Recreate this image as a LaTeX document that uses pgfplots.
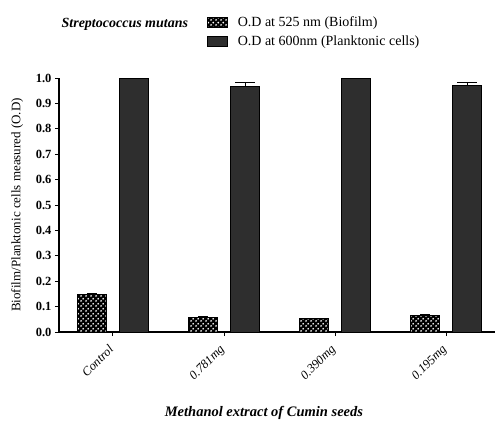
\documentclass[border=0pt]{standalone}
\usepackage{fontspec}
\setmainfont{Liberation Serif}
\usepackage{pgfplots}
\pgfplotsset{compat=1.18}
\usetikzlibrary{patterns}
\pgfdeclarepatternformonly{whitedots}{\pgfqpoint{0pt}{0pt}}{\pgfqpoint{5pt}{5pt}}{\pgfqpoint{5pt}{5pt}}{%
 \pgfpathcircle{\pgfqpoint{1.25pt}{1.25pt}}{1.1pt}%
 \pgfpathcircle{\pgfqpoint{3.75pt}{3.75pt}}{1.1pt}%
 \pgfusepath{fill}}
\definecolor{darkbar}{HTML}{2E2E2E}
\pgfplotsset{boxlegend/.style={legend image code/.code={\draw[##1] (0pt,-5pt) rectangle (20pt,5pt);}}}
\begin{document}
\begin{tikzpicture}
\begin{axis}[
 scale only axis, width=436pt, height=254pt,
 xmin=-0.486, xmax=3.44, ymin=0, ymax=1,
 axis x line=bottom, axis y line=left,
 axis line style={line width=1.1pt, -},
 xtick={0,1,2,3}, xticklabels={Control,0.781mg,0.390mg,0.195mg},
 x tick label style={rotate=45, anchor=north east, xshift=-5.7pt, yshift=1.4pt, font=\fontsize{12.5}{14}\selectfont\itshape},
 ytick={0,0.1,0.2,0.3,0.4,0.5,0.6,0.7,0.8,0.9,1.0},
 /pgf/number format/assume math mode=true,
 y tick label style={/pgf/number format/fixed, /pgf/number format/fixed zerofill, /pgf/number format/precision=1, font=\bfseries\fontsize{12.5}{14}\selectfont},
 tick align=outside, major tick length=4pt,
 tick style={line width=1pt, black},
 ylabel={Biofilm/Planktonic cells measured (O.D)},
 ylabel style={at={(axis description cs:-0.096,0.5)}, anchor=center, font=\fontsize{13}{15}\selectfont},
 xlabel={Methanol extract of Cumin seeds},
 xlabel style={at={(axis description cs:0.47,-0.318)}, anchor=center, font=\fontsize{14.5}{16}\selectfont\bfseries\itshape},
 ybar, bar width=29pt,
 legend style={at={(axis description cs:0.339,1.25)}, anchor=north west, draw=none, fill=none, font=\fontsize{14}{16}\selectfont, row sep=4pt, column sep=8pt, inner sep=0pt},
 legend cell align=left,
 clip=false,
]
\addplot[bar shift=-21pt, draw=black, line width=0.8pt, fill=black, postaction={pattern=whitedots, pattern color=white},
  boxlegend,
  error bars/.cd, y dir=plus, y explicit, error bar style={line width=1pt, black}, error mark options={rotate=90, line width=1pt, black, mark size=5pt}]
  coordinates {(0,0.148) +- (0,0.004) (1,0.058) +- (0,0.002) (2,0.053) +- (0,0.002) (3,0.065) +- (0,0.003)};
\addplot[bar shift=21pt, draw=black, line width=0.8pt, fill=darkbar,
  boxlegend,
  error bars/.cd, y dir=plus, y explicit, error bar style={line width=1pt, black}, error mark options={rotate=90, line width=1pt, black, mark size=10pt}]
  coordinates {(0,1.0) +- (0,0) (1,0.966) +- (0,0.015) (2,1.0) +- (0,0) (3,0.969) +- (0,0.012)};
\legend{O.D at 525 nm (Biofilm), O.D at 600nm (Planktonic cells)}
\node[font=\fontsize{14}{16}\selectfont\bfseries\itshape] at (axis description cs:0.151,1.213) {Streptococcus mutans};
\end{axis}
\pgfresetboundingbox
\path[use as bounding box] (-59pt,-89pt) rectangle (438pt,332pt);
\end{tikzpicture}
\end{document}
